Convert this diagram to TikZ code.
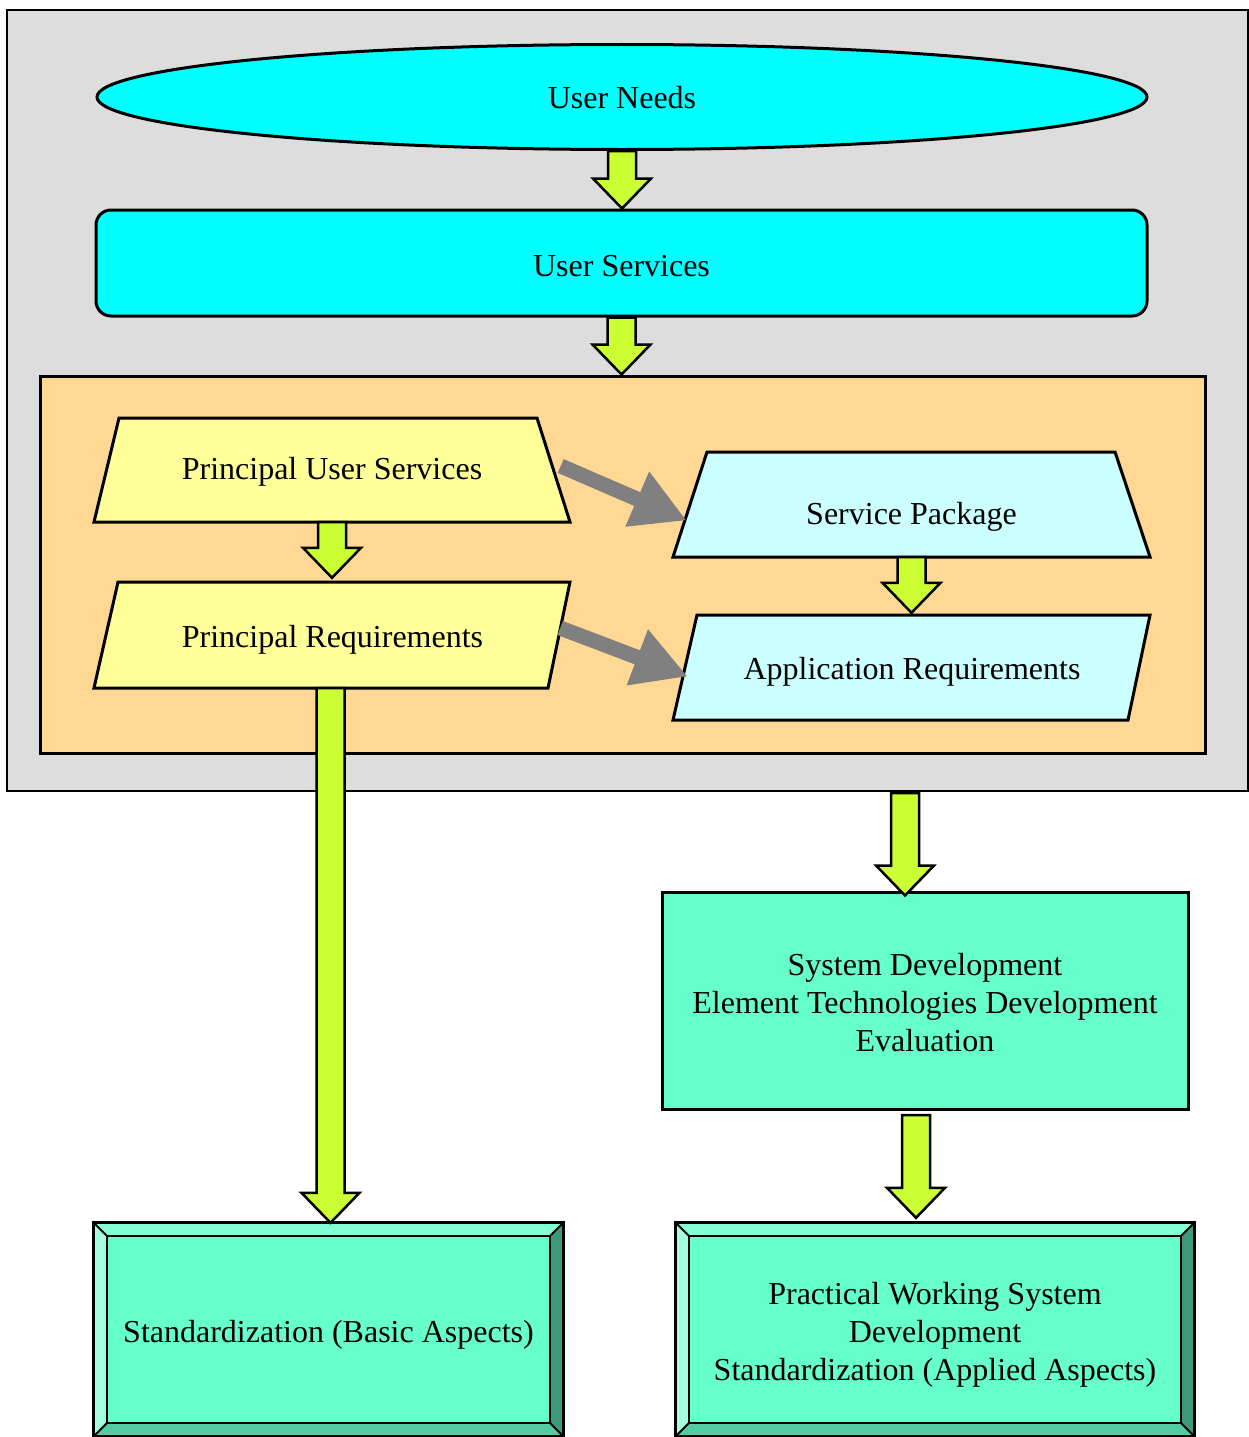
\documentclass[tikz,border=0pt]{standalone}
\usepackage{fontspec}
\setmainfont{Liberation Serif}
\usetikzlibrary{shapes.geometric,calc,arrows.meta}

\definecolor{bggray}{RGB}{221,221,221}
\definecolor{skin}{RGB}{255,217,148}
\definecolor{paleyellow}{RGB}{255,255,153}
\definecolor{palecyan}{RGB}{204,255,255}
\definecolor{aqua}{RGB}{0,255,255}
\definecolor{mint}{RGB}{102,255,204}
\definecolor{minttop}{RGB}{133,255,214}
\definecolor{mintleft}{RGB}{163,255,224}
\definecolor{mintright}{RGB}{61,153,122}
\definecolor{mintbottom}{RGB}{82,204,163}
\definecolor{lime}{RGB}{204,255,51}
\definecolor{arrowgray}{RGB}{128,128,128}

\tikzset{
  txt/.style={font=\fontsize{32}{38}\selectfont, align=center, inner sep=0pt},
  box/.style={txt, draw, line width=3pt},
  label/.style={txt, minimum height=104pt},
  yarr/.style={draw, line width=2.5pt, fill=lime, line join=miter},
  garr/.style={draw=arrowgray, line width=15pt, -{Triangle[length=54pt,width=56pt]}},
  shape3/.style={draw, line width=3pt, line join=miter},
}

% text drawn #1 lower, keeping the box size it had
\newcommand\low[2]{\raisebox{-#1}[\height][\depth]{#2}}

% vertical block arrow: shaft from #1 down to the tip at #2
\newcommand\yarrow[2]{%
  \draw[yarr] let \p1=(#1), \p2=(#2) in
    (\x1-14pt,\y1) -- (\x1-14pt,\y2+30pt) -- (\x1-29pt,\y2+30pt) -- (\x1,\y2)
    -- (\x1+29pt,\y2+30pt) -- (\x1+14pt,\y2+30pt) -- (\x1+14pt,\y1) -- cycle;}

% bevelled frame round a rectangle node
\newcommand\bevel[1]{%
  \fill[minttop] (#1.north west) -- (#1.north east) -- ($(#1.north east)+(-13,13)$) -- ($(#1.north west)+(13,13)$) -- cycle;
  \fill[mintleft] (#1.north west) -- (#1.south west) -- ($(#1.south west)+(13,-13)$) -- ($(#1.north west)+(13,13)$) -- cycle;
  \fill[mintright] (#1.north east) -- (#1.south east) -- ($(#1.south east)+(-13,-13)$) -- ($(#1.north east)+(-13,13)$) -- cycle;
  \fill[mintbottom] (#1.south west) -- (#1.south east) -- ($(#1.south east)+(-13,-13)$) -- ($(#1.south west)+(13,-13)$) -- cycle;
  \draw[line width=3pt] (#1.north west) rectangle (#1.south east);
  \draw[line width=2.5pt] ($(#1.north west)+(13,13)$) rectangle ($(#1.south east)+(-13,-13)$);
  \draw[line width=2pt] (#1.north west) -- ++(13,13) (#1.north east) -- ++(-13,13)
    (#1.south west) -- ++(13,-13) (#1.south east) -- ++(-13,-13);}

\begin{document}
\begin{tikzpicture}[x=1pt,y=-1pt]
\useasboundingbox (0,0) rectangle (1249,1437);

% containers
\node[draw, line width=2pt, fill=bggray, minimum width=1241pt, minimum height=781pt, inner sep=0pt] (outer) at (627.5,400.5) {};
\node[draw, line width=3pt, fill=skin, minimum width=1165pt, minimum height=377pt, inner sep=0pt] (group) at (622.5,564.5) {};

% top of the flow
\node[box, ellipse, fill=aqua, minimum width=1050pt, minimum height=105pt] (un) at (622,97) {\low{1pt}{User Needs}};
\node[box, rounded corners=15pt, fill=aqua, minimum width=1051pt, minimum height=106pt] (us) at (621.5,263) {\low{3pt}{User Services}};

% slanted shapes inside the group
\draw[shape3, fill=paleyellow] (119,418) -- (537,418) -- (570,522) -- (94,522) -- cycle;
\draw[shape3, fill=palecyan] (707,452) -- (1115,452) -- (1150,557) -- (673,557) -- cycle;
\draw[shape3, fill=paleyellow] (118,582) -- (570,582) -- (548,688) -- (94,688) -- cycle;
\draw[shape3, fill=palecyan] (697,615) -- (1150,615) -- (1128,720) -- (673,720) -- cycle;

\node[label, minimum width=447pt] (pus) at (332,470) {\low{2pt}{Principal User Services}};
\node[label, minimum width=443pt, minimum height=105pt] (sp) at (911.5,504.5) {\low{12pt}{Service Package}};
\node[label, minimum width=453pt, minimum height=106pt] (pr) at (332.5,635) {\low{5pt}{Principal Requirements}};
\node[label, minimum width=454pt, minimum height=105pt] (ar) at (912,667.5) {\low{4pt}{Application Requirements}};

% lower boxes
\node[box, fill=mint, minimum width=526pt, minimum height=217pt] (sd) at (925,1000.5)
  {\low{5pt}{\begin{tabular}{@{}c@{}}System Development\\Element Technologies Development\\Evaluation\end{tabular}}};
\node[txt, fill=mint, minimum width=469pt, minimum height=213pt] (std) at (328.5,1329.5) {};
\bevel{std}
\node[txt] at ([yshift=-5pt]std.center) {Standardization (Basic Aspects)};
\node[txt, fill=mint, minimum width=518pt, minimum height=213pt] (pw) at (935,1329.5) {};
\bevel{pw}
\node[txt] at ([yshift=-5pt]pw.center) {Practical Working System\\Development\\Standardization (Applied Aspects)};

% connectors
\coordinate (outexit) at (905,793);
\coordinate (sdexit) at (916,1115);
\yarrow{un.south}{us.north}
\yarrow{us.south}{group.north}
\yarrow{pus.south}{[yshift=4pt]pr.north}
\yarrow{sp.south}{[yshift=2pt]ar.north}
\yarrow{[xshift=-2pt]pr.south}{std.north}
\yarrow{outexit}{[yshift=-5pt]sd.north}
\yarrow{sdexit}{[yshift=5pt]pw.north}

\draw[garr] ([xshift=5pt,yshift=4pt]pus.east) -- ([xshift=-3pt,yshift=-16pt]sp.west);
\draw[garr] ([xshift=1pt,yshift=7pt]pr.east) -- ([xshift=3pt,yshift=-9pt]ar.west);
\end{tikzpicture}
\end{document}
